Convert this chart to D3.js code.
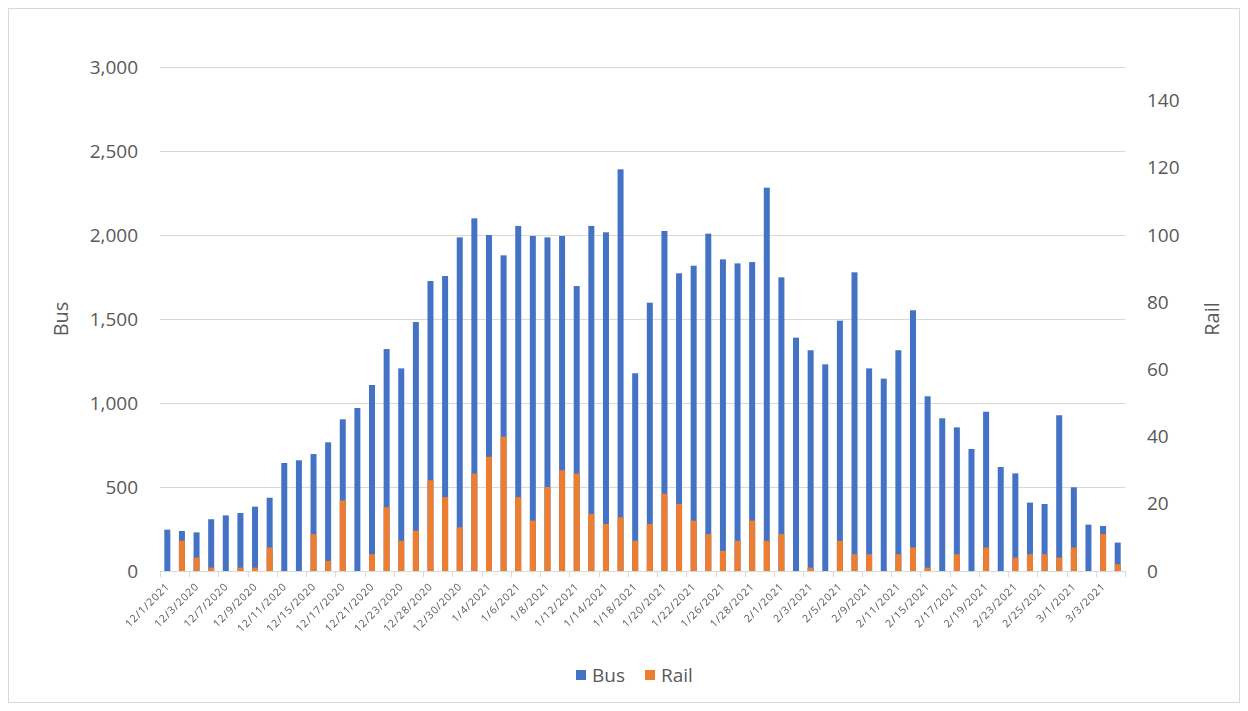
<!DOCTYPE html>
<html>
<head>
<meta charset="utf-8">
<script src="https://cdn.jsdelivr.net/npm/d3@7"></script>
<style>
  html, body { margin: 0; padding: 0; background: #fff; }
  svg { display: block; }
  text { font-family: "Open Sans", "Noto Sans", "Liberation Sans", sans-serif; fill: #595959; }
  .xlabels { opacity: 0.995; will-change: transform; }
</style>
</head>
<body>
<svg id="chart" width="1248" height="711"></svg>
<script>
const categories = [
  "12/1/2021","12/2/2020","12/3/2020","12/4/2020","12/7/2020","12/8/2020","12/9/2020","12/10/2020",
  "12/11/2020","12/14/2020","12/15/2020","12/16/2020","12/17/2020","12/18/2020","12/21/2020","12/22/2020",
  "12/23/2020","12/24/2020","12/28/2020","12/29/2020","12/30/2020","12/31/2020","1/4/2021","1/5/2021",
  "1/6/2021","1/7/2021","1/8/2021","1/11/2021","1/12/2021","1/13/2021","1/14/2021","1/15/2021",
  "1/18/2021","1/19/2021","1/20/2021","1/21/2021","1/22/2021","1/25/2021","1/26/2021","1/27/2021",
  "1/28/2021","1/29/2021","2/1/2021","2/2/2021","2/3/2021","2/4/2021","2/5/2021","2/8/2021",
  "2/9/2021","2/10/2021","2/11/2021","2/12/2021","2/15/2021","2/16/2021","2/17/2021","2/18/2021",
  "2/19/2021","2/22/2021","2/23/2021","2/24/2021","2/25/2021","2/26/2021","3/1/2021","3/2/2021",
  "3/3/2021","3/4/2021"
];
const busValues = [
  246,238,230,308,331,345,383,436,643,659,696,766,903,970,1107,1321,
  1206,1482,1726,1756,1986,2099,2000,1879,2054,1994,1986,1994,1696,2054,2016,2391,
  1177,1597,2024,1772,1817,2008,1855,1831,1839,2282,1748,1389,1314,1230,1490,1778,
  1206,1145,1314,1552,1040,909,855,726,948,619,581,407,399,927,498,276,
  268,169
];
const railValues = [
  0,9,4,1,0,1,1,7,0,0,11,3,21,0,5,19,
  9,12,27,22,13,29,34,40,22,15,25,30,29,17,14,16,
  9,14,23,20,15,11,6,9,15,9,11,0,1,0,9,5,
  5,0,5,7,1,0,5,0,7,0,4,5,5,4,7,0,
  11,2
];
const busTicks = [0,500,1000,1500,2000,2500,3000];
const railTicks = [0,20,40,60,80,100,120,140];
const seriesNames = ["Bus","Rail"];
const seriesColors = ["#4472C4","#ED7D31"];

(function () {
const svg = d3.select("#chart");
const W = 1248, H = 711;
const pLeft = 160, pRight = 1125, pTop = 67, pBottom = 571;

// border
svg.append("rect").attr("x",8.5).attr("y",8.5).attr("width",W-17).attr("height",H-17)
  .attr("fill","#fff").attr("stroke","#d9d9d9").attr("stroke-width",1);

const x = d3.scaleBand().domain(categories).range([pLeft, pRight]).paddingInner(0.59).paddingOuter(0.295);
const yBus = d3.scaleLinear().domain([0,3000]).range([pBottom, pTop]);
const yRail = d3.scaleLinear().domain([0,150]).range([pBottom, pTop]);

// gridlines
svg.append("g").selectAll("line").data(busTicks.filter(d => d > 0)).join("line")
  .attr("x1", pLeft).attr("x2", pRight)
  .attr("y1", d => Math.round(yBus(d)) + 0.5).attr("y2", d => Math.round(yBus(d)) + 0.5)
  .attr("stroke","#d9d9d9").attr("stroke-width",1);

// left axis
const gL = svg.append("g").attr("transform",`translate(${pLeft - 22},0)`)
  .call(d3.axisLeft(yBus).tickValues(busTicks).tickSize(0).tickPadding(0).tickFormat(d3.format(",")));
gL.select(".domain").remove();
gL.selectAll("text").attr("font-size", 19).attr("fill","#595959").style("font-family","'Open Sans', sans-serif");

// right axis
const gR = svg.append("g").attr("transform",`translate(${pRight + 22},0)`)
  .call(d3.axisRight(yRail).tickValues(railTicks).tickSize(0).tickPadding(0));
gR.select(".domain").remove();
gR.selectAll("text").attr("font-size", 19).attr("fill","#595959").style("font-family","'Open Sans', sans-serif");

// bars
const data = categories.map((c,i) => ({c, bus: busValues[i], rail: railValues[i]}));
svg.append("g").selectAll("rect").data(data).join("rect")
  .attr("x", d => x(d.c)).attr("width", x.bandwidth())
  .attr("y", d => yBus(d.bus)).attr("height", d => yBus(0) - yBus(d.bus))
  .attr("fill", seriesColors[0]);
svg.append("g").selectAll("rect").data(data).join("rect")
  .attr("x", d => x(d.c)).attr("width", x.bandwidth())
  .attr("y", d => yRail(d.rail)).attr("height", d => yRail(0) - yRail(d.rail))
  .attr("fill", seriesColors[1]);

// x axis line and ticks
svg.append("line").attr("x1", pLeft).attr("x2", pRight).attr("y1", pBottom + 0.5).attr("y2", pBottom + 0.5)
  .attr("stroke","#d9d9d9").attr("stroke-width",1);
const gapHalf = x.step() * x.paddingInner() / 2;
const tickPos = categories.filter((c,i) => i % 2 === 0).map(c => x(c) - gapHalf);
tickPos.push(pRight);
svg.append("g").selectAll("line").data(tickPos).join("line")
  .attr("x1", d => Math.round(d) + 0.5).attr("x2", d => Math.round(d) + 0.5)
  .attr("y1", pBottom).attr("y2", pBottom + 6)
  .attr("stroke","#d9d9d9").attr("stroke-width",1);

// x labels
svg.append("g").attr("class","xlabels").selectAll("text").data(categories.filter((c,i) => i % 2 === 0)).join("text")
  .attr("transform", d => `translate(${x(d) + x.bandwidth()/2 + 3},${pBottom + 16}) rotate(-45)`)
  .attr("text-anchor","end")
  .attr("font-size", 10.5)
  .attr("fill", "#595959")
  .style("letter-spacing","0.9px")
  .text(d => d);

// axis titles
svg.append("text").attr("transform",`translate(68,${(pTop+pBottom)/2}) rotate(-90)`)
  .attr("text-anchor","middle").attr("font-size",20).text("Bus");
svg.append("text").attr("transform",`translate(1219,${(pTop+pBottom)/2}) rotate(-90)`)
  .attr("text-anchor","middle").attr("font-size",20).text("Rail");

// legend
const legend = svg.append("g");
const legendItems = [{name: seriesNames[0], color: seriesColors[0], x: 576},
                     {name: seriesNames[1], color: seriesColors[1], x: 645}];
legendItems.forEach(it => {
  legend.append("rect").attr("x", it.x).attr("y", 670).attr("width", 10).attr("height", 10).attr("fill", it.color);
  legend.append("text").attr("x", it.x + 16).attr("y", 682).attr("font-size", 19).text(it.name);
});
})();
</script>
</body>
</html>
